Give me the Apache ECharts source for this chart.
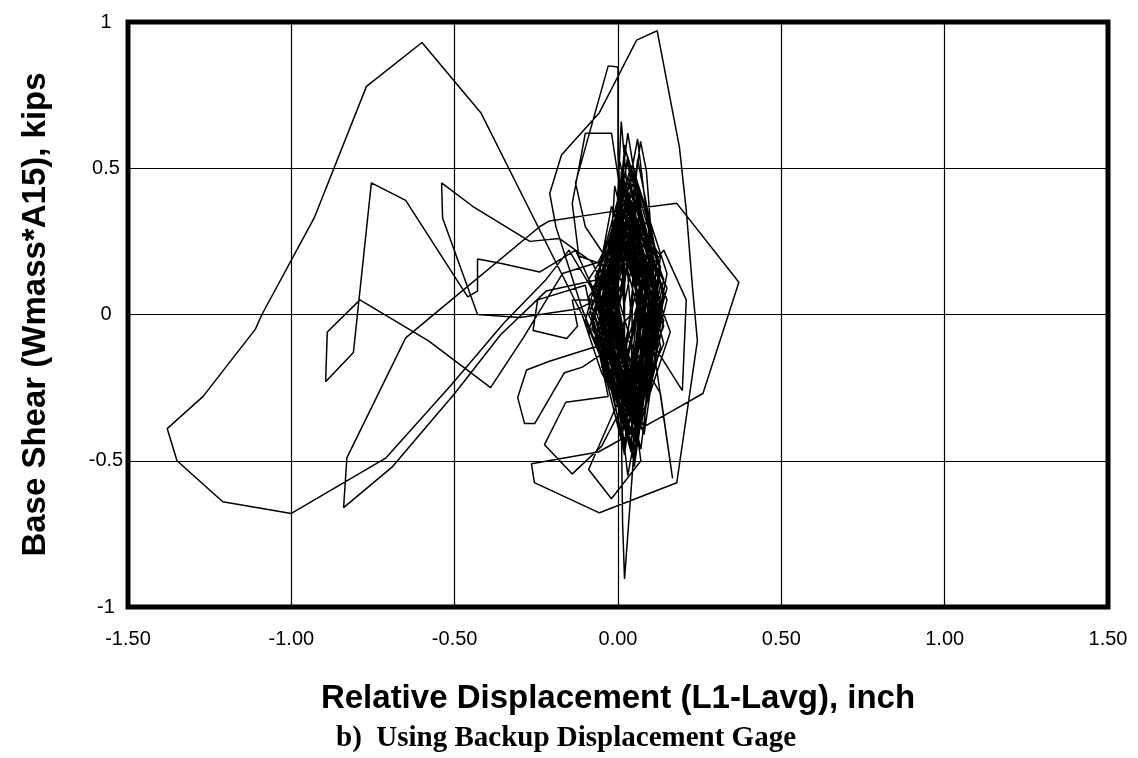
<!DOCTYPE html>
<html>
<head>
<meta charset="utf-8">
<script src="https://cdn.jsdelivr.net/npm/echarts@6/dist/echarts.min.js"></script>
<style>
html,body{margin:0;padding:0;background:#fff;}
#chart{width:1138px;height:758px;}
</style>
</head>
<body>
<div id="chart"></div>
<script>
// Tick labels
const xTicks = [-1.5, -1.0, -0.5, 0.0, 0.5, 1.0, 1.5];
const yTicks = [-1, -0.5, 0, 0.5, 1];

// Trace of (displacement, base shear), in drawing order
const segStart = [[0.02,0.04],[0.05,0.21],[0.01,0.34],[-0.03,0.12],[-0.01,-0.15],[0.04,-0.28],[0.07,-0.05],[0.06,0.27],[0.02,0.41],[-0.04,0.18],[-0.05,-0.09],[0.01,-0.33],[0.05,-0.41],[0.08,-0.12],[0.09,0.16],[0.04,0.38],[-0.02,0.29],[-0.06,0.04],[-0.03,-0.24],[0.03,-0.36]];
const bigLoop = [[-0.05,-0.20],[-0.11,0.0],[-0.42,0.69],[-0.60,0.93],[-0.77,0.78],[-0.93,0.33],[-1.09,0.0],[-1.11,-0.05],[-1.27,-0.28],[-1.38,-0.39],[-1.35,-0.50],[-1.21,-0.64],[-1.00,-0.68],[-0.71,-0.49],[-0.51,-0.24],[-0.35,-0.03],[-0.22,0.12],[-0.15,0.22],[-0.06,0.05],[0.0,-0.30],[0.05,-0.15],[0.08,0.20]];
const cycles1 = [[0.03,0.42],[0.11,0.08],[0.05,-0.35],[-0.05,-0.02],[0.01,0.36],[0.09,0.14],[0.03,-0.28],[-0.07,0.05],[0.04,0.51],[0.12,0.02],[0.06,-0.44],[-0.03,-0.10],[0.02,0.30],[0.08,-0.04],[0.01,-0.38],[-0.06,0.10],[0.05,0.46],[0.13,0.15],[0.07,-0.30],[-0.02,-0.06]];
const spikeA = [[0.02,0.10],[-0.12,0.02],[-0.30,-0.01],[-0.43,0.0],[-0.537,0.33],[-0.54,0.45],[-0.445,0.37],[-0.27,0.25],[-0.18,0.26],[-0.08,0.18],[0.02,-0.05]];
const cycles2 = [[0.00,0.55],[0.07,0.20],[0.04,-0.47],[-0.08,0.03],[0.03,0.33],[0.10,-0.08],[0.02,-0.25],[-0.04,0.14],[0.06,0.40],[0.14,0.06],[0.08,-0.41],[-0.01,-0.14],[0.02,0.58],[0.09,0.24],[0.03,-0.33],[-0.06,-0.04]];
const spikeB = [[0.0,0.20],[-0.17,0.14],[-0.29,-0.08],[-0.39,-0.25],[-0.58,-0.09],[-0.79,0.05],[-0.89,-0.06],[-0.895,-0.23],[-0.81,-0.13],[-0.755,0.45],[-0.65,0.39],[-0.46,0.06],[-0.43,0.08],[-0.43,0.19],[-0.36,0.175],[-0.24,0.145],[-0.13,0.22],[-0.04,0.0]];
const cycles3 = [[0.04,0.27],[0.11,-0.02],[0.05,-0.52],[-0.03,0.08],[-0.01,0.44],[0.06,0.11],[0.00,-0.22],[-0.09,0.00],[0.05,0.35],[0.12,-0.12],[0.06,-0.37],[-0.02,0.18],[0.03,0.62],[0.08,0.28],[0.02,-0.45],[-0.05,-0.12]];
const spikeC = [[0.03,0.30],[-0.06,0.12],[-0.22,0.08],[-0.36,-0.07],[-0.50,-0.27],[-0.69,-0.52],[-0.84,-0.66],[-0.83,-0.49],[-0.65,-0.08],[-0.51,0.05],[-0.24,0.30],[-0.21,0.32],[-0.03,0.35],[0.18,0.38],[0.37,0.11],[0.26,-0.27],[0.15,-0.34],[-0.06,-0.47],[-0.265,-0.51],[-0.256,-0.575],[-0.057,-0.678],[0.18,-0.575],[0.243,-0.09],[0.228,0.093],[0.209,0.356],[0.188,0.572],[0.12,0.97],[0.057,0.938],[-0.057,0.69],[-0.173,0.545],[-0.209,0.414],[-0.19,0.30],[-0.11,0.02],[-0.05,-0.15]];
const cycles4 = [[0.07,0.31],[0.13,0.04],[0.09,-0.28],[0.00,0.06],[0.01,0.49],[0.10,0.17],[0.04,-0.40],[-0.07,-0.08],[0.04,0.38],[0.11,-0.06],[0.03,-0.55],[-0.04,0.12],[0.02,0.25],[0.07,0.00],[0.05,-0.19],[-0.03,0.04]];
const smallTop = [[0.02,0.10],[-0.10,0.30],[-0.13,0.45],[-0.03,0.85],[0.0,0.846],[0.0,0.55],[0.02,0.10]];
const cycles5 = [[0.06,0.53],[0.12,0.19],[0.07,-0.34],[-0.01,-0.16],[0.00,0.41],[0.09,0.09],[0.01,-0.43],[-0.08,-0.02],[0.05,0.29],[0.14,-0.10],[0.06,-0.31],[-0.02,0.16]];
const boxB = [[-0.12,0.20],[-0.14,0.38],[-0.10,0.62],[-0.02,0.62],[0.01,0.40],[0.04,0.0]];
const pentagon = [[-0.04,-0.10],[-0.21,-0.16],[-0.28,-0.19],[-0.307,-0.284],[-0.286,-0.373],[-0.255,-0.373],[-0.164,-0.199],[-0.109,-0.18],[-0.03,-0.12]];
const cycles6 = [[0.03,0.47],[0.10,0.22],[0.04,-0.26],[-0.06,0.01],[0.01,0.34],[0.08,0.03],[0.02,-0.48],[-0.05,-0.06],[0.06,0.60],[0.11,0.13],[0.08,-0.39],[0.00,-0.11]];
const shapeD = [[0.0,0.05],[-0.14,0.05],[-0.124,-0.04],[-0.157,-0.082],[-0.26,-0.055],[-0.246,0.05],[-0.10,0.10]];
const diamond = [[-0.03,-0.28],[-0.16,-0.30],[-0.225,-0.445],[-0.14,-0.545],[-0.05,-0.45],[0.02,-0.30]];
const cycles7 = [[0.02,0.22],[0.09,-0.05],[0.03,-0.21],[-0.04,0.09],[0.04,0.43],[0.13,0.10],[0.05,-0.36],[-0.07,0.07],[-0.02,0.37],[0.05,0.15],[0.01,-0.29],[-0.08,-0.03]];
const bottomSpike = [[0.01,-0.35],[0.014,-0.712],[0.02,-0.904],[0.05,-0.45],[0.03,-0.20]];
const lowerMid = [[0.0,-0.30],[-0.09,-0.53],[-0.02,-0.63],[0.07,-0.50],[0.04,-0.25]];
const cycles8 = [[0.05,0.50],[0.12,0.01],[0.07,-0.46],[-0.01,-0.09],[0.03,0.28],[0.10,-0.09],[0.04,-0.24],[-0.03,0.13],[0.02,0.45],[0.08,0.18],[0.03,-0.42],[-0.06,0.02]];
const rightSpikes = [[0.04,-0.10],[0.13,-0.27],[0.167,-0.56],[0.12,-0.20],[0.08,0.10],[0.05,0.0],[0.197,-0.26],[0.209,0.05],[0.14,0.22],[0.06,0.10]];
const topSpike = [[0.03,0.20],[0.057,0.486],[0.069,0.592],[0.087,0.49],[0.10,0.30]];
const cycles9 = [[0.06,0.33],[0.12,0.07],[0.06,-0.32],[-0.02,-0.05],[0.01,0.66],[0.06,0.02],[0.02,-0.18],[-0.04,0.06],[0.04,0.39],[0.11,0.12],[0.05,-0.35],[-0.05,-0.01],[0.03,0.31],[0.09,-0.03],[0.04,-0.27],[-0.03,0.08]];
const cycles10 = [[0.04,0.35],[0.15,0.05],[0.07,-0.30],[-0.08,-0.05],[0.02,0.48],[0.14,0.12],[0.05,-0.40],[-0.09,0.06],[0.05,0.28],[0.16,-0.06],[0.08,-0.33],[-0.07,0.10],[0.01,0.40],[0.13,0.20],[0.06,-0.45],[-0.10,-0.02],[0.03,0.52],[0.12,-0.15],[0.04,-0.28],[-0.06,0.18],[0.06,0.45],[0.15,0.14],[0.09,-0.22],[-0.05,-0.18],[0.00,0.32],[0.11,0.25],[0.05,-0.50],[-0.08,0.00],[0.04,0.22],[0.14,-0.02],[0.07,-0.38],[-0.04,-0.20],[0.02,0.57],[0.10,0.30],[0.03,-0.31],[-0.09,0.12],[0.05,0.36],[0.13,-0.11],[0.06,-0.42],[-0.06,0.08]];
const cycles11 = [[0.03,0.18],[0.12,0.03],[0.05,-0.25],[-0.05,-0.08],[0.01,0.30],[0.11,0.10],[0.04,-0.35],[-0.07,0.02],[0.04,0.41],[0.14,0.08],[0.06,-0.29],[-0.06,-0.12],[0.02,0.26],[0.10,-0.16],[0.03,-0.43],[-0.05,0.15],[0.05,0.49],[0.13,0.16],[0.07,-0.36],[-0.03,-0.15],[0.01,0.37],[0.12,-0.04],[0.04,-0.21],[-0.08,0.09],[0.03,0.24],[0.11,0.06],[0.05,-0.32],[-0.04,-0.03],[0.02,0.44],[0.09,0.12],[0.03,-0.39],[-0.06,0.04]];
const cycles12 = [[0.00,0.38],[0.10,0.21],[0.06,-0.27],[-0.07,-0.10],[0.03,0.54],[0.13,-0.01],[0.04,-0.47],[-0.05,0.11],[0.05,0.32],[0.15,0.09],[0.07,-0.24],[-0.09,-0.06],[0.02,0.42],[0.11,-0.08],[0.05,-0.37],[-0.04,0.21],[0.04,0.29],[0.12,0.11],[0.03,-0.34],[-0.06,-0.09],[0.01,0.47],[0.10,0.04],[0.06,-0.41],[-0.07,0.13],[0.03,0.36],[0.14,-0.04],[0.05,-0.28],[-0.03,0.02],[0.02,0.20],[0.07,0.05],[0.03,-0.15],[-0.02,0.03],[0.04,0.26],[0.08,0.00],[0.03,-0.22],[-0.01,0.05],[0.03,0.15],[0.06,0.02],[0.02,-0.12],[0.00,0.01]];

const path = [].concat(segStart, bigLoop, cycles1, spikeA, cycles2, spikeB, cycles3, spikeC, cycles4, smallTop, cycles5, boxB, pentagon, cycles6, shapeD, diamond, cycles7, bottomSpike, lowerMid, cycles8, rightSpikes, topSpike, cycles9, cycles10, cycles11, cycles12);

const chart = echarts.init(document.getElementById('chart'), null, {renderer: 'canvas'});
chart.setOption({
  animation: false,
  backgroundColor: '#ffffff',
  grid: {left: 128, right: 30, top: 22, bottom: 151, show: true, borderColor: '#000', borderWidth: 5, backgroundColor: 'transparent'},
  xAxis: {
    type: 'value', min: xTicks[0], max: xTicks[xTicks.length - 1], interval: 0.5,
    name: 'Relative Displacement (L1-Lavg), inch', nameLocation: 'middle', nameGap: 75,
    nameTextStyle: {fontFamily: 'Liberation Sans', fontWeight: 'bold', fontSize: 33, color: '#000'},
    axisLine: {show: false}, axisTick: {show: false},
    axisLabel: {formatter: v => v.toFixed(2), fontFamily: 'Liberation Sans', fontSize: 20, color: '#000', margin: 22},
    splitLine: {show: true, lineStyle: {color: '#000', width: 1.2}}
  },
  yAxis: {
    type: 'value', min: yTicks[0], max: yTicks[yTicks.length - 1], interval: 0.5,
    name: 'Base Shear (Wmass*A15), kips', nameLocation: 'middle', nameGap: 76,
    nameTextStyle: {fontFamily: 'Liberation Sans', fontWeight: 'bold', fontSize: 33, color: '#000'},
    axisLine: {show: false}, axisTick: {show: false},
    axisLabel: {formatter: v => String(v), fontFamily: 'Liberation Sans', fontSize: 20, color: '#000', margin: 22, align: 'center'},
    splitLine: {show: true, lineStyle: {color: '#000', width: 1.2}}
  },
  graphic: [{
    type: 'text', left: 336, top: 724,
    style: {text: 'b)  Using Backup Displacement Gage', font: 'bold 29px "Liberation Serif"', fill: '#000'}
  }],
  series: [{
    type: 'line', data: path, showSymbol: false, symbol: 'none', smooth: false,
    lineStyle: {color: '#000', width: 1.5}, clip: true
  }]
});
</script>
</body>
</html>
